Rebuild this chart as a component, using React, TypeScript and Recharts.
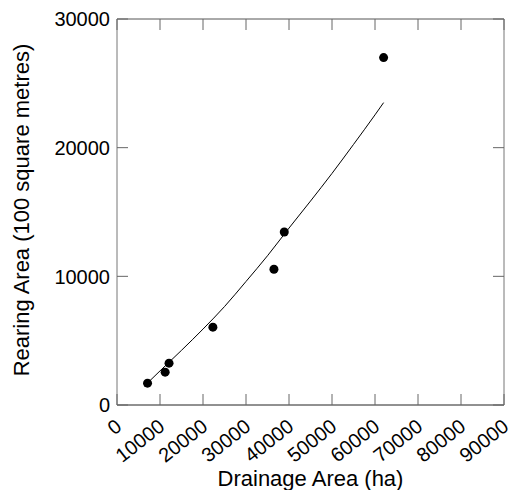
import {
  ScatterChart,
  Scatter,
  XAxis,
  YAxis,
  Label,
} from "recharts";

// measured points
const drainage = [7100, 11200, 12100, 22300, 36500, 38900, 62000];
const rearing = [1700, 2550, 3250, 6050, 10550, 13450, 27000];

// fitted curve
const fitX = [6300, 10000, 15000, 20000, 25000, 30000, 35000, 40000, 45000, 50000, 55000, 60000, 62000];
const fitY = [1450, 2650, 4250, 5900, 7650, 9600, 11600, 13750, 15850, 18000, 20250, 22550, 23500];

const xTicks = [0, 10000, 20000, 30000, 40000, 50000, 60000, 70000, 80000, 90000];
const yTicks = [0, 10000, 20000, 30000];

const points = drainage.map((x, i) => ({ x, y: rearing[i] }));
const curve = fitX.map((x, i) => ({ x, y: fitY[i] }));

const font = "'Liberation Sans', Arial, sans-serif";
const TICK = 11;
const tickColor = "#666";

// bottom axis: inward tick + rotated label
const BottomTick = ({ x, y, payload }: any) => (
  <g>
    <line x1={x} y1={y} x2={x} y2={y - TICK} stroke={tickColor} />
    <text
      x={x + 6}
      y={y + 24}
      transform={`rotate(-38 ${x + 6} ${y + 24})`}
      textAnchor="end"
      fontSize={20}
      fontFamily={font}
      fill="#000"
    >
      {payload.value}
    </text>
  </g>
);

const LeftTick = ({ x, y, payload }: any) => (
  <g>
    <line x1={x} y1={y} x2={x + TICK} y2={y} stroke={tickColor} />
    <text
      x={x - 7}
      y={y}
      dy="0.36em"
      textAnchor="end"
      fontSize={20}
      fontFamily={font}
      fill="#000"
    >
      {payload.value}
    </text>
  </g>
);

const TopTick = ({ x, y }: any) => (
  <line x1={x} y1={y} x2={x} y2={y + TICK} stroke={tickColor} />
);

const RightTick = ({ x, y }: any) => (
  <line x1={x} y1={y} x2={x - TICK} y2={y} stroke={tickColor} />
);

const Dot = ({ cx, cy }: any) => <circle cx={cx} cy={cy} r={4.5} fill="#000" />;

const YTitle = () => (
  <text
    x={29}
    y={210}
    transform="rotate(-90 29 210)"
    textAnchor="middle"
    fontSize={22}
    fontFamily={font}
    fill="#000"
  >
    Rearing Area (100 square metres)
  </text>
);

const XTitle = () => (
  <text x={310.5} y={486} textAnchor="middle" fontSize={22} fontFamily={font} fill="#000">
    Drainage Area (ha)
  </text>
);

const App = () => {
  return (
    <div style={{ position: "absolute", left: 0, top: 0 }}>
      <ScatterChart
        width={510}
        height={490}
        margin={{ top: 18, right: 5, left: 0, bottom: 0 }}
        style={{ fontFamily: font }}
      >
        <XAxis
          type="number"
          dataKey="x"
          domain={[0, 90000]}
          ticks={xTicks}
          interval={0}
          height={85}
          tickSize={0}
          tickMargin={0}
          tickLine={false}
          tick={<BottomTick />}
          axisLine={{ stroke: "#222" }}
        >
          <Label content={<XTitle />} />
        </XAxis>
        <XAxis
          xAxisId="top"
          orientation="top"
          type="number"
          dataKey="x"
          domain={[0, 90000]}
          ticks={xTicks}
          interval={0}
          height={1}
          tickSize={0}
          tickMargin={0}
          tickLine={false}
          tick={<TopTick />}
          axisLine={{ stroke: "#555" }}
        />
        <YAxis
          type="number"
          dataKey="y"
          domain={[0, 30000]}
          ticks={yTicks}
          interval={0}
          width={117}
          tickSize={0}
          tickMargin={0}
          tickLine={false}
          tick={<LeftTick />}
          axisLine={{ stroke: "#777" }}
        >
          <Label content={<YTitle />} />
        </YAxis>
        <YAxis
          yAxisId="right"
          orientation="right"
          type="number"
          dataKey="y"
          domain={[0, 30000]}
          ticks={yTicks}
          interval={0}
          width={1}
          tickSize={0}
          tickMargin={0}
          tickLine={false}
          tick={<RightTick />}
          axisLine={{ stroke: "#777" }}
        />
        <Scatter
          data={curve}
          xAxisId="top"
          yAxisId="right"
          line={{ stroke: "#000", strokeWidth: 1 }}
          lineType="joint"
          lineJointType="monotoneX"
          shape={() => <g />}
          isAnimationActive={false}
        />
        <Scatter data={points} shape={<Dot />} isAnimationActive={false} />
      </ScatterChart>
    </div>
  );
};

export default App;
